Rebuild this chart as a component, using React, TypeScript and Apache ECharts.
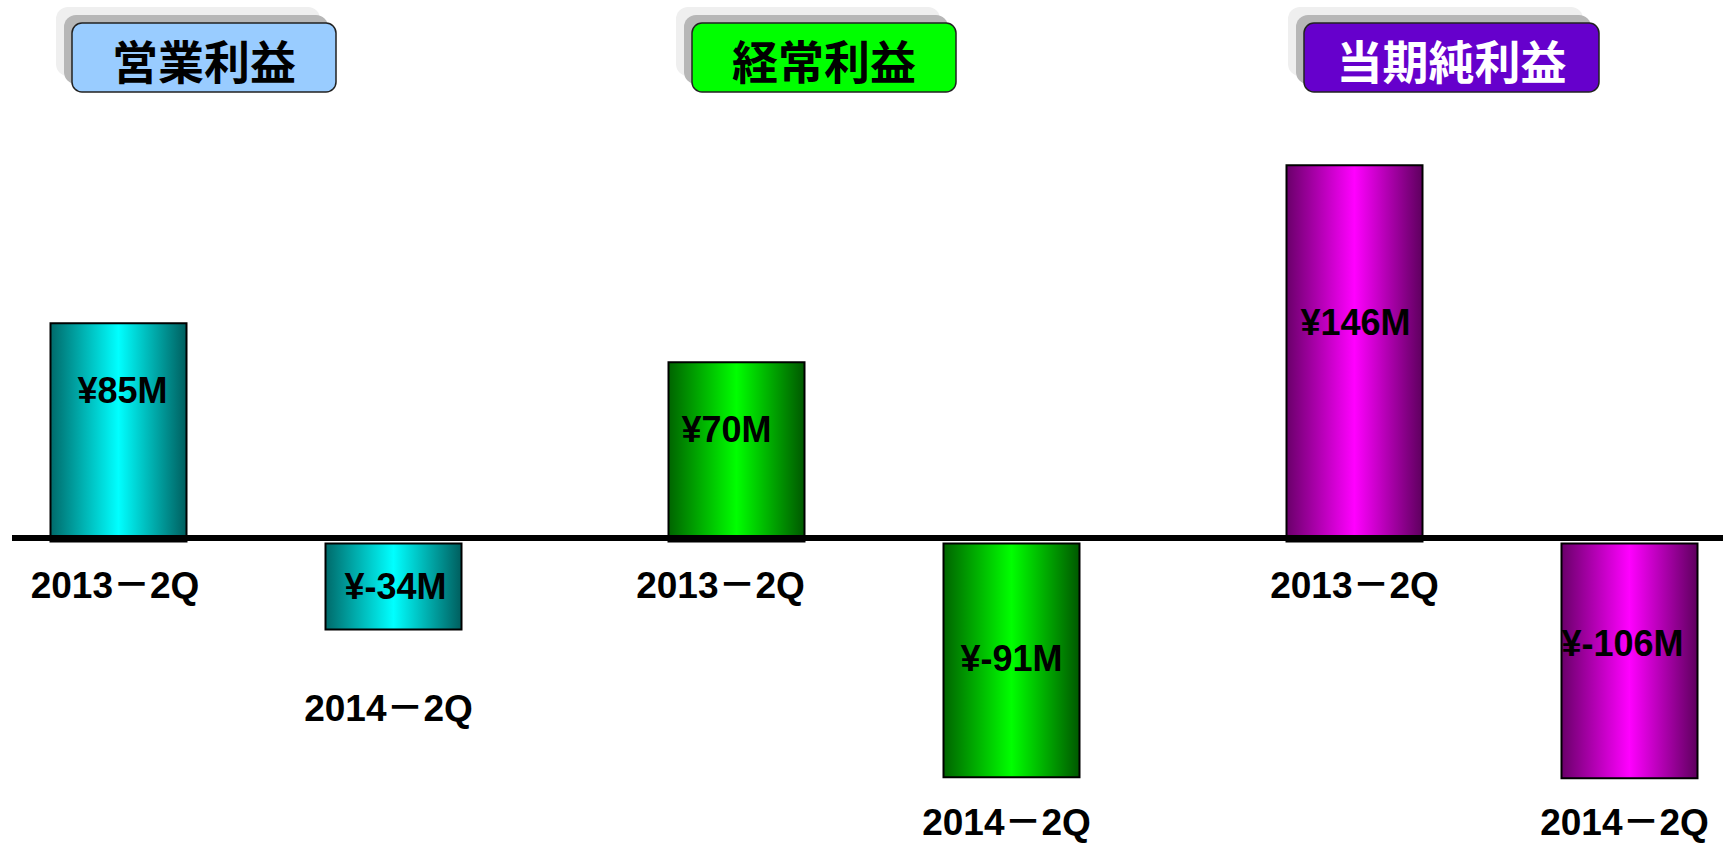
import React, { useEffect, useRef } from "react";
import * as echarts from "echarts";

// ---- data ----
const panelTitles = ["営業利益", "経常利益", "当期純利益"];
const categories = ["2013－2Q", "2014－2Q"];
const operatingProfit = [85, -34];
const ordinaryProfit = [70, -91];
const netProfit = [146, -106];
const panelValues = [operatingProfit, ordinaryProfit, netProfit];
const yMin = -91;
const yMax = 150;

// ---- styling ----
const W = 1723;
const H = 845;
const gridLefts = [-19, 599, 1217];
const gridWidth = 550;
const gridTop = 154;
const gridHeight = 624.2;
const zeroOffset = -(gridHeight * (0 - yMin)) / (yMax - yMin);
const barColors = [
  ["#006a6a", "#00ffff", "#005e5e"],
  ["#006400", "#00ff00", "#005800"],
  ["#6a006a", "#ff00ff", "#5e005e"],
];
const titleBoxes = [
  { x: 72, w: 264, fill: "#99ccff", text: "#000000" },
  { x: 692, w: 264, fill: "#00ff00", text: "#000000" },
  { x: 1304, w: 295, fill: "#6600cc", text: "#ffffff" },
];
const valueLabelOffsets = [
  [[4, -42], [2, 0]],
  [[-10, -22], [0, -2]],
  [[1, -31], [-7, -17]],
];
// vertical drop of the lower category label below the upper one (px)
const lowLabelDrop = [123, 237, 237];
const highLabelPadRight = [7, 32, 0];
const FONT = "'Liberation Sans', 'Noto Sans CJK JP', Arial, sans-serif";
const CJK = "'Noto Sans CJK JP', sans-serif";

export default function App() {
  const ref = useRef<HTMLDivElement>(null);

  useEffect(() => {
    document.body.style.margin = "0";
    const chart = echarts.init(ref.current!, null, { renderer: "svg" });

    const grids = gridLefts.map((left) => ({
      left,
      top: gridTop,
      width: gridWidth,
      height: gridHeight,
      containLabel: false,
      outerBoundsMode: "none",
    }));

    const xAxes = gridLefts.map((_, i) => ({
      type: "category",
      gridIndex: i,
      data: categories,
      boundaryGap: true,
      position: "bottom",
      offset: zeroOffset,
      axisLine: { show: false, onZero: false },
      axisTick: { show: false },
      splitLine: { show: false },
      axisLabel: {
        interval: 0,
        margin: 24,
        hideOverlap: false,
        formatter: (v: string, idx: number) => (idx === 0 ? `{a|${v}}` : `{b|${v}}`),
        rich: {
          a: {
            fontFamily: FONT,
            fontWeight: "bold",
            fontSize: 37,
            color: "#000",
            lineHeight: 37,
            padding: [0, highLabelPadRight[i], 0, 0],
          },
          b: {
            fontFamily: FONT,
            fontWeight: "bold",
            fontSize: 37,
            color: "#000",
            lineHeight: 37,
            padding: [lowLabelDrop[i] * 2, 10, 0, 0],
          },
        },
      },
    }));

    const yAxes = gridLefts.map((_, i) => ({
      type: "value",
      gridIndex: i,
      min: yMin,
      max: yMax,
      show: false,
      splitLine: { show: false },
    }));

    const series = panelValues.map((vals, i) => ({
      type: "bar",
      xAxisIndex: i,
      yAxisIndex: i,
      barWidth: 138,
      clip: true,
      itemStyle: {
        color: {
          type: "linear",
          x: 0,
          y: 0,
          x2: 1,
          y2: 0,
          colorStops: [
            { offset: 0, color: barColors[i][0] },
            { offset: 0.5, color: barColors[i][1] },
            { offset: 1, color: barColors[i][2] },
          ],
        },
        borderColor: "#000",
        borderWidth: 2,
      },
      label: {
        show: true,
        position: "inside",
        fontFamily: FONT,
        fontWeight: "bold",
        fontSize: 36,
        color: "#000",
        formatter: (p: any) => `¥${p.value}M`,
      },
      data: vals.map((v, j) => ({
        value: v,
        label: { offset: valueLabelOffsets[i][j] },
      })),
    }));

    const graphics: any[] = [];
    titleBoxes.forEach((b, i) => {
      const y = 23;
      const h = 69;
      graphics.push(
        {
          type: "rect",
          shape: { x: b.x - 16, y: y - 16, width: b.w, height: h, r: 12 },
          style: { fill: "#efefef" },
          z: 10,
        },
        {
          type: "rect",
          shape: { x: b.x - 8, y: y - 8, width: b.w, height: h, r: 12 },
          style: { fill: "#b7b7b7" },
          z: 11,
        },
        {
          type: "rect",
          shape: { x: b.x, y, width: b.w, height: h, r: 10 },
          style: { fill: b.fill, stroke: "#222", lineWidth: 1.5 },
          z: 12,
        },
        {
          type: "text",
          x: b.x + b.w / 2,
          y: y + h / 2 + 1,
          style: {
            text: panelTitles[i],
            fill: b.text,
            font: `bold 46px ${CJK}`,
            align: "center",
            verticalAlign: "middle",
          },
          z: 13,
        }
      );
    });
    graphics.push({
      type: "line",
      shape: { x1: 12, y1: 538, x2: W, y2: 538 },
      style: { stroke: "#000", lineWidth: 6 },
      z: 100,
    });

    chart.setOption({
      animation: false,
      backgroundColor: "#ffffff",
      grid: grids,
      xAxis: xAxes,
      yAxis: yAxes,
      series,
      graphic: graphics,
    });

    return () => chart.dispose();
  }, []);

  return <div ref={ref} style={{ width: W, height: H }} />;
}
